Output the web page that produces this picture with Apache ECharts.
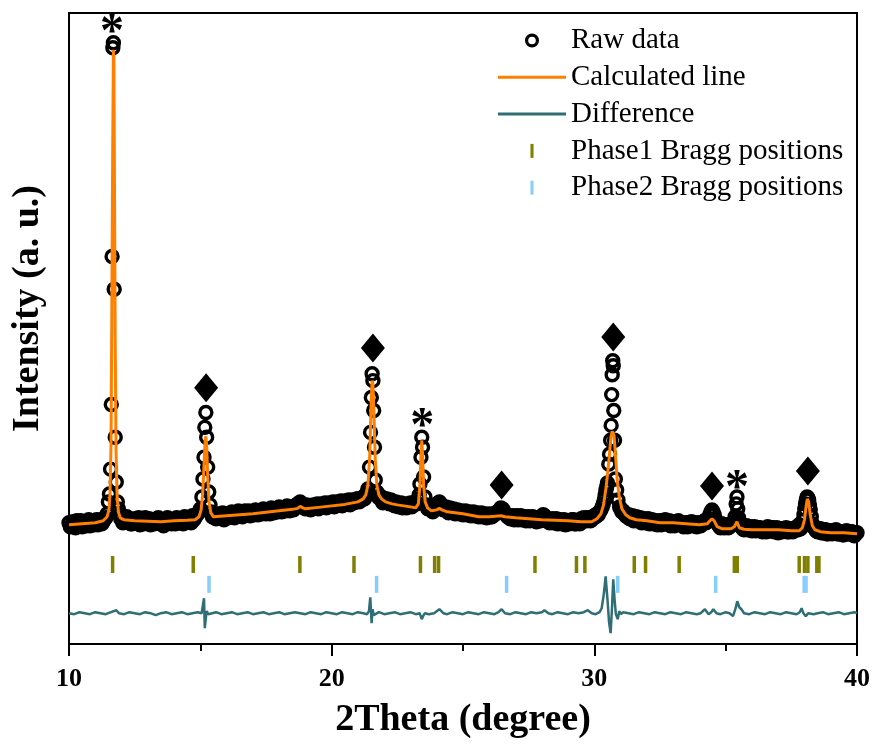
<!DOCTYPE html>
<html>
<head>
<meta charset="utf-8">
<script src="https://cdn.jsdelivr.net/npm/echarts@6/dist/echarts.min.js"></script>
<style>html,body{margin:0;padding:0;background:#fff}#chart{width:875px;height:744px}</style>
</head>
<body>
<div id="chart"></div>
<script>
// ---- data: 2Theta (degree), intensity (a. u.) ----
const rawData = [
[10.00,122],[10.05,118],[10.10,119],[10.15,123],[10.20,121],[10.25,117],[10.30,124],[10.35,120],[10.40,120],[10.45,124],
[10.50,118],[10.55,121],[10.60,123],[10.65,119],[10.70,121],[10.75,125],[10.80,119],[10.85,122],[10.90,124],[10.95,120],
[11.00,122],[11.05,125],[11.10,120],[11.15,123],[11.20,125],[11.25,121],[11.30,123],[11.35,126],[11.40,127],[11.45,131],
[11.50,143],[11.54,151],[11.58,176],[11.61,241],[11.64,390],[11.67,600],[11.69,605],[11.72,357],[11.76,208],[11.80,163],
[11.84,143],[11.88,136],[11.93,130],[11.97,126],[12.00,127],[12.05,122],[12.10,123],[12.15,127],[12.20,128],[12.25,124],
[12.30,125],[12.35,121],[12.40,121],[12.45,125],[12.50,126],[12.55,122],[12.60,124],[12.65,127],[12.70,120],[12.75,123],
[12.80,125],[12.85,121],[12.90,127],[12.95,124],[13.00,122],[13.05,126],[13.10,120],[13.15,123],[13.20,125],[13.25,121],
[13.30,123],[13.35,126],[13.40,127],[13.45,122],[13.50,121],[13.55,125],[13.60,119],[13.65,122],[13.70,124],[13.75,127],
[13.80,126],[13.85,122],[13.90,121],[13.95,125],[14.00,124],[14.05,121],[14.10,127],[14.15,124],[14.20,122],[14.25,126],
[14.30,125],[14.35,121],[14.40,128],[14.45,124],[14.50,123],[14.55,127],[14.60,126],[14.65,122],[14.70,129],[14.75,125],
[14.80,127],[14.85,130],[14.90,131],[14.95,133],[15.00,136],[15.06,148],[15.10,166],[15.14,188],[15.17,218],[15.21,233],
[15.24,208],[15.28,178],[15.32,153],[15.37,140],[15.42,133],[15.46,128],[15.50,130],[15.55,127],[15.60,126],[15.65,130],
[15.70,131],[15.75,127],[15.80,128],[15.85,132],[15.90,125],[15.95,129],[16.00,131],[16.05,127],[16.10,129],[16.15,132],
[16.20,133],[16.25,129],[16.30,127],[16.35,131],[16.40,130],[16.45,134],[16.50,132],[16.55,129],[16.60,128],[16.65,132],
[16.70,134],[16.75,130],[16.80,131],[16.85,134],[16.90,129],[16.95,132],[17.00,133],[17.05,130],[17.10,135],[17.15,132],
[17.20,130],[17.25,134],[17.30,133],[17.35,131],[17.40,136],[17.45,133],[17.50,131],[17.55,135],[17.60,134],[17.65,131],
[17.70,137],[17.75,134],[17.80,132],[17.85,136],[17.90,135],[17.95,133],[18.00,138],[18.05,135],[18.10,133],[18.15,137],
[18.20,136],[18.25,134],[18.30,139],[18.35,136],[18.40,134],[18.45,138],[18.50,137],[18.55,135],[18.60,139],[18.65,138],
[18.70,141],[18.75,140],[18.80,143],[18.85,141],[18.90,139],[18.95,137],[19.00,136],[19.05,140],[19.10,139],[19.15,136],
[19.20,135],[19.25,139],[19.30,140],[19.35,137],[19.40,138],[19.45,141],[19.50,136],[19.55,139],[19.60,141],[19.65,138],
[19.70,139],[19.75,142],[19.80,137],[19.85,140],[19.90,142],[19.95,139],[20.00,140],[20.05,143],[20.10,138],[20.15,141],
[20.20,143],[20.25,140],[20.30,141],[20.35,144],[20.40,139],[20.45,142],[20.50,144],[20.55,141],[20.60,142],[20.65,145],
[20.70,140],[20.75,143],[20.80,145],[20.85,142],[20.90,143],[20.95,146],[21.00,146],[21.05,143],[21.10,144],[21.15,147],
[21.20,148],[21.25,146],[21.30,150],[21.34,152],[21.38,156],[21.44,178],[21.48,213],[21.51,248],[21.54,272],[21.57,265],
[21.60,235],[21.63,198],[21.66,165],[21.72,153],[21.80,147],[21.85,149],[21.90,145],[21.95,142],[22.00,143],[22.05,146],
[22.10,146],[22.15,142],[22.20,141],[22.25,145],[22.30,144],[22.35,140],[22.40,139],[22.45,143],[22.50,142],[22.55,138],
[22.60,140],[22.65,142],[22.70,137],[22.75,140],[22.80,141],[22.85,137],[22.90,139],[22.95,141],[23.00,142],[23.05,138],
[23.10,140],[23.15,142],[23.20,143],[23.25,141],[23.30,146],[23.33,150],[23.36,161],[23.40,188],[23.43,208],[23.46,198],
[23.50,168],[23.55,148],[23.62,140],[23.66,136],[23.70,137],[23.75,139],[23.80,135],[23.85,133],[23.90,138],[23.95,136],
[24.00,141],[24.05,139],[24.10,143],[24.15,141],[24.20,139],[24.25,135],[24.30,136],[24.35,138],[24.40,134],[24.45,132],
[24.50,137],[24.55,134],[24.60,133],[24.65,136],[24.70,131],[24.75,133],[24.80,135],[24.85,131],[24.90,132],[24.95,134],
[25.00,130],[25.05,132],[25.10,134],[25.15,130],[25.20,131],[25.25,133],[25.30,129],[25.35,131],[25.40,133],[25.45,129],
[25.50,130],[25.55,132],[25.60,128],[25.65,130],[25.70,132],[25.75,128],[25.80,129],[25.85,131],[25.90,127],[25.95,130],
[26.00,131],[26.05,128],[26.10,128],[26.15,131],[26.20,130],[26.25,132],[26.30,133],[26.35,134],[26.40,135],[26.44,137],
[26.47,136],[26.51,136],[26.55,134],[26.60,131],[26.65,130],[26.70,128],[26.75,129],[26.80,126],[26.85,128],[26.90,129],
[26.95,125],[27.00,127],[27.05,129],[27.10,125],[27.15,127],[27.20,129],[27.25,125],[27.30,126],[27.35,128],[27.40,124],
[27.45,127],[27.50,128],[27.55,124],[27.60,125],[27.65,128],[27.70,127],[27.75,124],[27.80,123],[27.85,127],[27.90,126],
[27.95,124],[28.00,128],[28.05,130],[28.10,129],[28.15,126],[28.20,125],[28.25,123],[28.30,122],[28.35,125],[28.40,126],
[28.45,122],[28.50,124],[28.55,126],[28.60,121],[28.65,123],[28.70,125],[28.75,121],[28.80,123],[28.85,125],[28.90,120],
[28.95,122],[29.00,124],[29.05,121],[29.10,122],[29.15,125],[29.20,125],[29.25,121],[29.30,121],[29.35,124],[29.40,123],
[29.45,121],[29.50,126],[29.55,124],[29.60,127],[29.65,125],[29.70,124],[29.75,127],[29.80,127],[29.85,124],[29.90,125],
[29.95,128],[30.00,129],[30.05,128],[30.10,131],[30.15,130],[30.20,133],[30.25,135],[30.30,138],[30.34,141],[30.38,145],
[30.41,150],[30.44,155],[30.47,158],[30.50,162],[30.55,181],[30.58,191],[30.62,205],[30.64,220],[30.66,251],[30.68,271],
[30.70,285],[30.72,280],[30.74,235],[30.77,205],[30.80,166],[30.85,155],[30.90,145],[30.96,138],[31.00,136],[31.05,133],
[31.10,134],[31.15,131],[31.20,129],[31.25,128],[31.30,130],[31.35,126],[31.40,127],[31.45,129],[31.50,124],[31.55,126],
[31.60,128],[31.65,124],[31.70,125],[31.75,127],[31.80,122],[31.85,124],[31.90,126],[31.95,122],[32.00,124],[32.05,126],
[32.10,121],[32.15,123],[32.20,125],[32.25,121],[32.30,122],[32.35,124],[32.40,120],[32.45,123],[32.50,124],[32.55,120],
[32.60,121],[32.65,123],[32.70,125],[32.75,121],[32.80,122],[32.85,124],[32.90,119],[32.95,121],[33.00,123],[33.05,119],
[33.10,121],[33.15,123],[33.20,124],[33.25,121],[33.30,120],[33.35,122],[33.40,118],[33.45,121],[33.50,122],[33.55,118],
[33.60,119],[33.65,122],[33.70,123],[33.75,119],[33.80,120],[33.85,122],[33.90,118],[33.95,120],[34.00,122],[34.05,119],
[34.10,121],[34.15,123],[34.20,124],[34.25,122],[34.30,123],[34.35,126],[34.40,130],[34.44,133],[34.48,135],[34.52,133],
[34.56,130],[34.60,126],[34.65,123],[34.70,121],[34.75,119],[34.80,117],[34.85,121],[34.90,119],[34.95,117],[35.00,119],
[35.05,120],[35.10,117],[35.15,118],[35.20,120],[35.25,121],[35.29,122],[35.32,123],[35.36,128],[35.40,141],[35.43,148],
[35.46,136],[35.49,127],[35.52,121],[35.56,119],[35.60,118],[35.65,116],[35.70,115],[35.75,118],[35.80,119],[35.85,115],
[35.90,116],[35.95,118],[36.00,114],[36.05,116],[36.10,118],[36.15,114],[36.20,115],[36.25,117],[36.30,117],[36.35,114],
[36.40,113],[36.45,116],[36.50,116],[36.55,113],[36.60,118],[36.65,115],[36.70,114],[36.75,117],[36.80,117],[36.85,113],
[36.90,115],[36.95,117],[37.00,112],[37.05,114],[37.10,116],[37.15,113],[37.20,114],[37.25,116],[37.30,117],[37.35,113],
[37.40,113],[37.45,116],[37.50,116],[37.55,113],[37.60,114],[37.65,117],[37.70,117],[37.75,115],[37.80,120],[37.85,116],
[37.90,118],[37.94,124],[37.98,130],[38.01,136],[38.04,141],[38.07,145],[38.10,148],[38.13,147],[38.16,145],[38.19,140],
[38.22,135],[38.26,128],[38.30,121],[38.35,118],[38.40,116],[38.45,114],[38.50,113],[38.55,116],[38.60,116],[38.65,112],
[38.70,112],[38.75,115],[38.80,115],[38.85,111],[38.90,111],[38.95,114],[39.00,114],[39.05,111],[39.10,112],[39.15,114],
[39.20,115],[39.25,111],[39.30,111],[39.35,113],[39.40,113],[39.45,110],[39.50,110],[39.55,113],[39.60,114],[39.65,111],
[39.70,111],[39.75,113],[39.80,113],[39.85,110],[39.90,109],[39.95,112],[40.00,112]
];

const calcData = [
[10.0,120],[10.5,121],[11.0,122],[11.3,124],[11.45,128],[11.52,135],[11.56,150],[11.60,200],[11.63,330],[11.66,480],
[11.69,598],[11.71,590],[11.73,470],[11.76,300],[11.79,195],[11.83,150],[11.88,133],[11.95,127],[12.1,125],[12.5,124],
[13.0,123.5],[13.5,123],[14.0,124],[14.5,124.5],[14.8,125],[14.95,128],[15.03,135],[15.09,152],[15.14,180],[15.18,203],
[15.21,209],[15.24,200],[15.28,170],[15.33,143],[15.40,132],[15.5,128],[16.0,129],[16.5,130],[17.0,131],[17.5,132.5],
[18.0,134],[18.5,135.5],[18.7,136.5],[18.8,138.5],[18.9,137],[19.0,136],[19.5,137.5],[20.0,139],[20.5,140.5],[21.0,143],
[21.2,146],[21.3,150],[21.38,160],[21.45,190],[21.50,240],[21.54,265],[21.57,262],[21.61,232],[21.66,185],[21.72,160],
[21.80,150],[21.9,146],[22.05,143],[22.3,141],[22.5,140],[23.0,138],[23.2,137],[23.30,141],[23.36,160],[23.40,190],
[23.43,205],[23.46,192],[23.50,160],[23.56,143],[23.65,137],[23.8,134],[24.0,135],[24.1,136.5],[24.2,135],[24.4,133],
[25.0,131],[25.6,128],[26.0,128],[26.45,129],[26.6,128],[27.0,127],[27.5,126],[28.0,125],[28.5,124.5],[29.0,124],
[29.5,123],[29.9,123],[30.1,126],[30.25,131],[30.35,140],[30.45,158],[30.55,183],[30.63,208],[30.68,214],[30.71,216],
[30.75,210],[30.80,192],[30.87,165],[30.95,148],[31.05,136],[31.2,130],[31.35,127],[31.6,125],[32.0,124],[32.5,122],
[33.0,122],[33.5,121],[34.0,120],[34.3,121],[34.40,124],[34.48,126],[34.56,124],[34.68,118],[34.85,116],[35.0,116],
[35.2,116],[35.33,118],[35.43,123],[35.52,117],[35.7,115.5],[36.0,115],[36.5,115],[37.0,115],[37.5,114],[37.8,114],
[37.92,117],[38.0,125],[38.06,138],[38.11,146],[38.16,143],[38.22,130],[38.30,119],[38.4,115],[38.6,113],[39.0,112],
[39.5,112],[40.0,111]
];

const diffData = [
[10.0,31],[10.2,30],[10.4,32],[10.6,31],[10.8,30],[11.0,32],[11.2,31],[11.4,30],[11.6,32],[11.8,34],
[11.9,31],[12.1,30],[12.3,32],[12.5,31],[12.7,30],[12.9,32],[13.1,31],[13.3,29],[13.5,31],[13.7,32],
[13.9,30],[14.1,31],[14.3,32],[14.5,30],[14.7,31],[14.9,32],[15.05,31],[15.10,33],[15.14,46],[15.17,16],
[15.20,24],[15.24,33],[15.3,30],[15.45,31],[15.6,32],[15.8,30],[16.0,31],[16.2,32],[16.4,30],[16.6,31],
[16.8,32],[17.0,30],[17.2,31],[17.4,32],[17.6,30],[17.8,31],[18.0,32],[18.2,30],[18.4,31],[18.6,32],
[18.8,31],[19.0,30],[19.2,32],[19.4,31],[19.6,30],[19.8,32],[20.0,31],[20.2,30],[20.4,32],[20.6,31],
[20.8,30],[21.0,32],[21.2,31],[21.35,30],[21.42,33],[21.47,47],[21.52,21],[21.56,35],[21.60,29],[21.66,31],
[21.8,32],[22.0,30],[22.2,31],[22.4,32],[22.6,30],[22.8,31],[23.0,32],[23.2,30],[23.35,31],[23.39,33],
[23.43,25],[23.48,28],[23.55,31],[23.7,30],[23.9,31],[24.1,35],[24.25,31],[24.4,30],[24.6,32],[24.8,31],
[25.0,30],[25.2,32],[25.4,31],[25.6,30],[25.8,32],[26.0,31],[26.2,30],[26.35,32],[26.47,35],[26.6,31],
[26.8,30],[27.0,32],[27.2,31],[27.4,30],[27.6,32],[27.8,31],[28.0,32],[28.1,34],[28.25,31],[28.4,30],
[28.6,32],[28.8,31],[29.0,30],[29.2,32],[29.4,31],[29.6,32],[29.75,34],[29.9,31],[30.05,30],[30.2,32],
[30.28,36],[30.36,50],[30.43,68],[30.50,45],[30.56,22],[30.62,11],[30.67,35],[30.72,65],[30.77,45],[30.82,30],
[30.89,25],[30.95,33],[31.02,30],[31.1,32],[31.3,31],[31.5,30],[31.7,32],[31.9,31],[32.1,30],[32.3,32],
[32.5,31],[32.7,30],[32.9,32],[33.1,31],[33.3,30],[33.5,32],[33.7,31],[33.9,30],[34.05,31],[34.21,35],
[34.35,30],[34.45,32],[34.53,35],[34.65,31],[34.8,30],[35.0,32],[35.15,31],[35.28,28],[35.38,36],[35.44,43],
[35.52,37],[35.6,35],[35.7,31],[35.9,30],[36.1,32],[36.3,31],[36.5,30],[36.7,32],[36.9,31],[37.1,30],
[37.3,32],[37.5,31],[37.7,30],[37.82,32],[37.89,36],[37.96,31],[38.05,28],[38.15,31],[38.22,32],[38.35,30],
[38.5,31],[38.7,32],[38.9,30],[39.1,31],[39.3,32],[39.5,30],[39.7,31],[39.9,32],[40.0,31]
];

const phase1Positions = [11.66,14.73,18.79,20.85,23.38,23.92,24.07,27.74,29.32,29.64,31.52,31.95,33.23,35.33,35.44,37.80,38.00,38.13,38.47,38.55];
const phase2Positions = [15.33,21.71,26.66,30.89,34.62,37.99,38.06];
const phase1Level = 80;   // offset row of Phase1 reflection markers
const phase2Level = 60;   // offset row of Phase2 reflection markers

const asteriskPeaks = [[11.64,622],[23.45,226],[35.43,163]];
const diamondPeaks = [[15.22,258],[21.57,298],[26.47,160],[30.72,309],[34.48,159],[38.13,174]];

const xTicks = [10,20,30,40];
const seriesNames = ['Raw data','Calculated line','Difference','Phase1 Bragg positions','Phase2 Bragg positions'];

// ---- chart ----
const chart = echarts.init(document.getElementById('chart'), null, {renderer:'canvas'});
const serif = '"Liberation Serif","Times New Roman",serif';
const barPath = 'path://M0,0h2v9h-2z';
const lineIcon = 'path://M0,0h68v3h-68z';
const ringIcon = 'path://M0,7A7,7 0 1 1 14,7A7,7 0 1 1 0,7Z M3.2,7A3.8,3.8 0 1 0 10.8,7A3.8,3.8 0 1 0 3.2,7Z';

chart.setOption({
  animation: false,
  backgroundColor: '#fff',
  grid: {left: 69, right: 18, top: 13, bottom: 96, show: true, borderColor: '#000', borderWidth: 2, backgroundColor: 'transparent'},
  legend: {
    orient: 'vertical', left: 493, top: 21, itemWidth: 68, itemHeight: 14, itemGap: 7.8,
    textStyle: {fontFamily: serif, fontSize: 29, color: '#000', lineHeight: 29},
    data: [
      {name: seriesNames[0], icon: ringIcon, itemStyle: {color: '#000', borderWidth: 0, opacity: 1}},
      {name: seriesNames[1], icon: lineIcon, itemStyle: {color: '#ff7f00', borderWidth: 0}},
      {name: seriesNames[2], icon: lineIcon, itemStyle: {color: '#2f6e75', borderWidth: 0}},
      {name: seriesNames[3], itemStyle: {color: '#808000', borderWidth: 0, opacity: 1}},
      {name: seriesNames[4], itemStyle: {color: '#87cefa', borderWidth: 0, opacity: 1}}
    ]
  },
  xAxis: {
    type: 'value', min: xTicks[0], max: xTicks[xTicks.length-1], interval: 10,
    name: '2Theta (degree)', nameLocation: 'middle', nameGap: 57,
    nameTextStyle: {fontFamily: serif, fontSize: 38, fontWeight: 'bold', color: '#000'},
    axisLine: {show: true, onZero: false, lineStyle: {color: '#000', width: 2}},
    axisTick: {show: true, inside: false, length: 12, lineStyle: {color: '#000', width: 2}},
    minorTick: {show: true, splitNumber: 2, length: 7, lineStyle: {color: '#000', width: 2}},
    axisLabel: {fontFamily: serif, fontSize: 26, fontWeight: 'bold', color: '#000', margin: 22},
    splitLine: {show: false}
  },
  yAxis: {
    type: 'value', min: 0, max: 635,
    name: 'Intensity (a. u.)', nameLocation: 'middle', nameGap: 22,
    nameTextStyle: {fontFamily: serif, fontSize: 38, fontWeight: 'bold', color: '#000', padding: [0,0,0,40]},
    axisLine: {show: true, lineStyle: {color: '#000', width: 2}},
    axisTick: {show: false}, axisLabel: {show: false}, splitLine: {show: false}
  },
  series: [
    {
      name: seriesNames[0], type: 'scatter', data: rawData, z: 2,
      symbol: 'circle', symbolSize: 12,
      itemStyle: {color: 'rgba(0,0,0,0)', borderColor: '#000', borderWidth: 3.4, opacity: 1}
    },
    {
      name: seriesNames[1], type: 'line', data: calcData, z: 5,
      symbol: 'none', smooth: false,
      lineStyle: {color: '#ff7f00', width: 3}, itemStyle: {color: '#ff7f00'}
    },
    {
      name: seriesNames[2], type: 'line', data: diffData, z: 4,
      symbol: 'none',
      lineStyle: {color: '#2f6e75', width: 2.5}, itemStyle: {color: '#2f6e75'}
    },
    {
      name: seriesNames[3], type: 'scatter', z: 3,
      data: phase1Positions.map(p => [p, phase1Level]),
      symbol: barPath, symbolSize: [3.5, 17],
      itemStyle: {color: '#808000', opacity: 1}
    },
    {
      name: seriesNames[4], type: 'scatter', z: 3,
      data: phase2Positions.map(p => [p, phase2Level]),
      symbol: barPath, symbolSize: [3.5, 17],
      itemStyle: {color: '#87cefa', opacity: 1}
    },
    {
      name: 'asterisk marks', type: 'scatter', z: 6, data: asteriskPeaks,
      symbolSize: 1, itemStyle: {color: 'rgba(0,0,0,0)', opacity: 1}, silent: true,
      label: {show: true, position: 'inside', formatter: '*', fontFamily: serif, fontSize: 48, fontWeight: 'bold', color: '#000', offset: [0, 8]}
    },
    {
      name: 'diamond marks', type: 'scatter', z: 6, data: diamondPeaks,
      symbol: 'diamond', symbolSize: [24, 29], itemStyle: {color: '#000', opacity: 1}, silent: true
    }
  ]
});
</script>
</body>
</html>
